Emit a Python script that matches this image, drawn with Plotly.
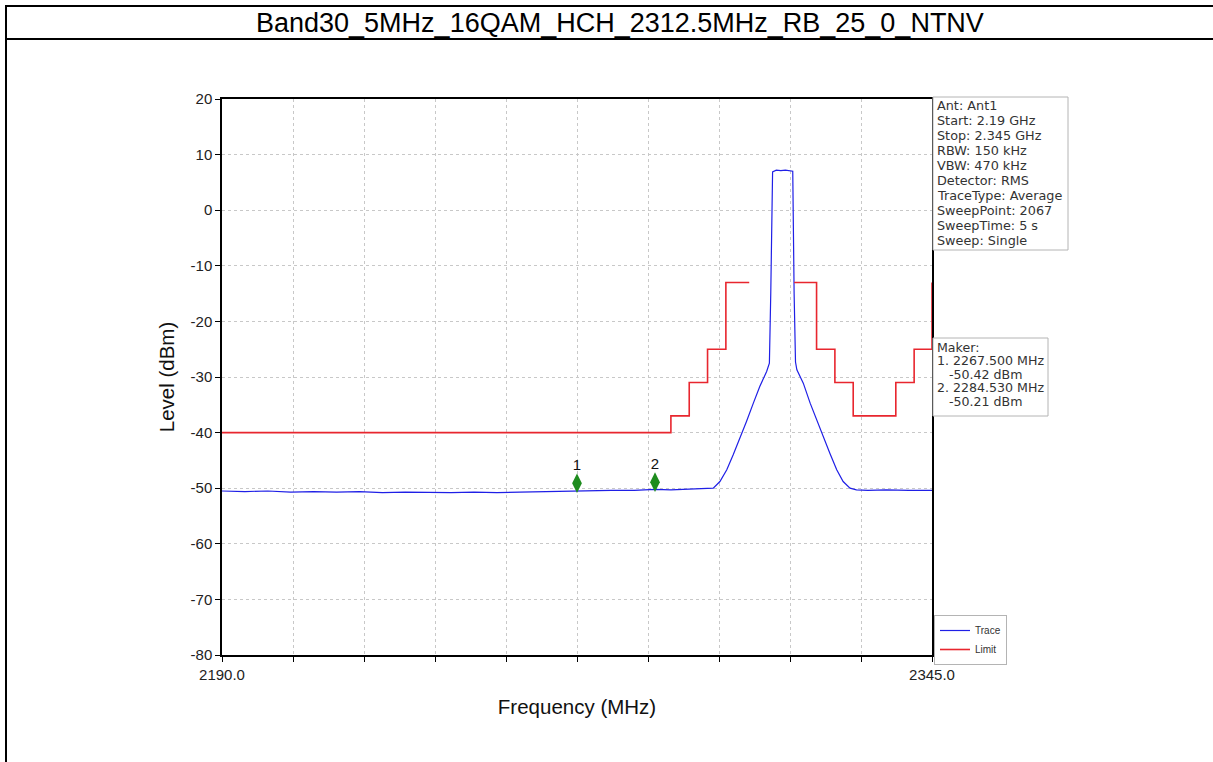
import plotly.graph_objects as go

# ---- data ----
TITLE = "Band30_5MHz_16QAM_HCH_2312.5MHz_RB_25_0_NTNV"

trace_freq = [2190, 2195, 2200, 2205, 2210, 2215, 2220, 2225, 2230, 2235, 2240,
              2245, 2250, 2255, 2260, 2265, 2267.5, 2270, 2275, 2280, 2284.53,
              2288, 2292, 2294, 2295.8, 2297.25, 2298.7, 2300.2, 2301.6, 2303.1,
              2304.5, 2306.0, 2307.4, 2308.9, 2309.5, 2309.8, 2310.2, 2311.0,
              2312.0, 2313.0, 2314.0, 2314.6, 2314.9, 2315.2, 2315.5, 2316.9,
              2318.4, 2319.8, 2321.3, 2322.7, 2324.2, 2325.6, 2327.1, 2328.5,
              2331, 2335, 2340, 2345]
trace_level = [-50.5, -50.6, -50.5, -50.7, -50.6, -50.7, -50.6, -50.8, -50.7, -50.8, -50.8,
               -50.7, -50.8, -50.7, -50.6, -50.5, -50.42, -50.5, -50.4, -50.4, -50.21,
               -50.3, -50.2, -50.1, -50.0, -50.0, -48.8, -46.7, -44.0, -41.0,
               -38.0, -34.7, -31.7, -29.0, -27.5, -15.0, 6.9, 7.2,
               7.1, 7.2, 7.1, 7.0, -15.0, -27.3, -28.7, -31.1,
               -34.7, -37.7, -40.7, -43.7, -46.7, -48.8, -50.0, -50.3,
               -50.4, -50.3, -50.4, -50.4]

limit_freq = [2190, 2288, 2292, 2296, 2300, 2305.1, None,
              2314.9, 2319.8, 2323.8, 2327.8, 2337.1, 2341.1, 2345, 2345]
limit_level = [-40, -37, -31, -25, -13, -13, None,
               -13, -25, -31, -37, -31, -25, -25, -13]

marker_labels = ["1", "2"]
marker_freq = [2267.5, 2284.53]
marker_level = [-50.42, -50.21]

x_ticks = [2190.0 + 15.5 * i for i in range(11)]
x_tick_text = ["2190.0", "", "", "", "", "", "", "", "", "", "2345.0"]
y_ticks = [20, 10, 0, -10, -20, -30, -40, -50, -60, -70, -80]
y_tick_text = ["20", "10", "0", "-10", "-20", "-30", "-40", "-50", "-60", "-70", "-80"]

info_lines = ["Ant: Ant1", "Start: 2.19 GHz", "Stop: 2.345 GHz", "RBW: 150 kHz",
              "VBW: 470 kHz", "Detector: RMS", "TraceType: Average",
              "SweepPoint: 2067", "SweepTime: 5 s", "Sweep: Single"]
maker_lines = ["Maker:", "1. 2267.500 MHz", "\u00a0\u00a0\u00a0-50.42 dBm",
               "2. 2284.530 MHz", "\u00a0\u00a0\u00a0-50.21 dBm"]

# ---- page geometry (pixels) ----
W, H = 1213, 762
L, R, T, B = 222, 932, 99, 655


def px2x(px):
    return (px - L) / (R - L)


def px2y(py):
    return (B - py) / (B - T)


FONT = "Arial, Liberation Sans, sans-serif"
BOXFONT = "DejaVu Sans, sans-serif"
MARKER_OFFSET = 1.3  # diamond sits just above the trace

fig = go.Figure()
fig.add_trace(go.Scatter(x=trace_freq, y=trace_level, mode="lines", name="Trace",
                         line=dict(color="#1f1fe6", width=1.2)))
fig.add_trace(go.Scatter(x=limit_freq, y=limit_level, mode="lines", name="Limit",
                         line=dict(color="#e8262e", width=1.6, shape="hv"),
                         connectgaps=False))
fig.add_trace(go.Scatter(x=marker_freq, y=[v + MARKER_OFFSET for v in marker_level],
                         mode="markers+text", text=marker_labels,
                         textposition="top center",
                         textfont=dict(size=15, color="#111", family=FONT),
                         marker=dict(symbol="diamond-tall", size=14, color="#1e8c1e"),
                         showlegend=False))

axis_common = dict(showgrid=True, gridcolor="#c8c8c8", griddash="3px,3px", gridwidth=1,
                   showline=True, linecolor="black", linewidth=1.5, mirror=True,
                   ticks="outside", ticklen=5, tickcolor="black", zeroline=False,
                   layer="below traces",
                   tickfont=dict(size=15, color="#222", family=FONT))
fig.update_xaxes(range=[2190, 2345], tickvals=x_ticks, ticktext=x_tick_text,
                 title=dict(text="Frequency (MHz)", font=dict(size=20.5, family=FONT, color="#111"),
                            standoff=18),
                 **axis_common)
fig.update_yaxes(range=[-80, 20], tickvals=y_ticks, ticktext=y_tick_text,
                 title=dict(text="Level (dBm)", font=dict(size=20.5, family=FONT, color="#111"),
                            standoff=10),
                 **axis_common)

# page frame lines
frame = dict(type="line", xref="paper", yref="paper", line=dict(color="black", width=2))
fig.add_shape(x0=px2x(6), x1=px2x(W), y0=px2y(6), y1=px2y(6), **frame)
fig.add_shape(x0=px2x(6), x1=px2x(W), y0=px2y(39), y1=px2y(39), **frame)
fig.add_shape(x0=px2x(6), x1=px2x(6), y0=px2y(5), y1=px2y(H), **frame)

fig.add_annotation(text=TITLE, xref="paper", yref="paper", x=px2x(620), y=px2y(23),
                   showarrow=False, xanchor="center", yanchor="middle",
                   font=dict(size=27, family=FONT, color="black"))

# info and marker boxes: frame + one text line each
boxline = dict(type="rect", xref="paper", yref="paper",
               line=dict(color="#b4b4b4", width=1), fillcolor="white")
fig.add_shape(x0=px2x(933), x1=px2x(1068), y0=px2y(97), y1=px2y(250), **boxline)
fig.add_shape(x0=px2x(933), x1=px2x(1048), y0=px2y(338), y1=px2y(416), **boxline)

txt = dict(xref="paper", yref="paper", showarrow=False, xanchor="left", yanchor="middle",
           align="left")
for i, line in enumerate(info_lines):
    fig.add_annotation(text=line, x=px2x(935), y=px2y(105 + 15.1 * i),
                       font=dict(size=12.8, family=BOXFONT, color="#333"), **txt)
for i, line in enumerate(maker_lines):
    fig.add_annotation(text=line, x=px2x(935), y=px2y(347 + 13.6 * i),
                       font=dict(size=12.6, family=BOXFONT, color="#333"), **txt)

fig.update_layout(
    width=W, height=H,
    margin=dict(l=L, r=W - R, t=T, b=H - B),
    paper_bgcolor="white", plot_bgcolor="white",
    legend=dict(x=px2x(934), y=px2y(615), xanchor="left", yanchor="top",
                bordercolor="#b4b4b4", borderwidth=1, bgcolor="white",
                font=dict(size=10, family=FONT, color="#333"),
                itemwidth=30, tracegroupgap=0),
)

fig.write_html("out.html", config={"displayModeBar": False},
               post_script="document.body.style.margin='0';")
